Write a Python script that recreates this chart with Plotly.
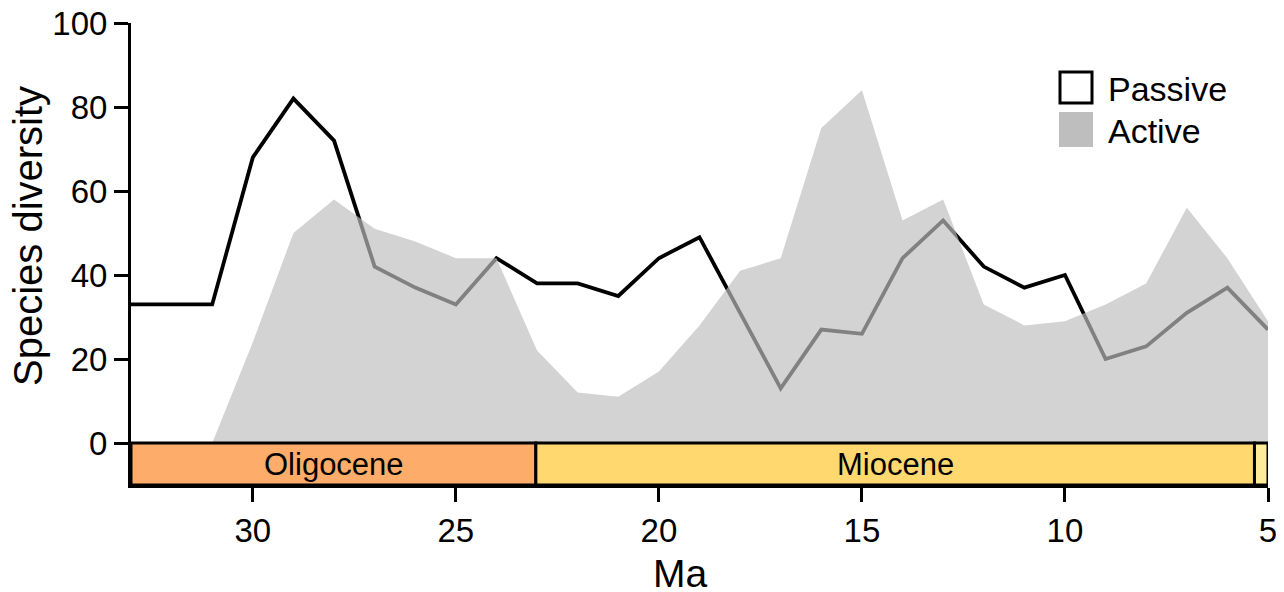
import plotly.graph_objects as go

# ---- data ----
ma = [33, 32, 31, 30, 29, 28, 27, 26, 25, 24, 23, 22, 21, 20, 19, 18, 17, 16, 15,
      14, 13, 12, 11, 10, 9, 8, 7, 6, 5]
passive = [33, 33, 33, 68, 82, 72, 42, 37, 33, 44, 38, 38, 35, 44, 49, 31, 13, 27, 26,
           44, 53, 42, 37, 40, 20, 23, 31, 37, 27]
active_ma = [31, 30, 29, 28, 27, 26, 25, 24, 23, 22, 21, 20, 19, 18, 17, 16, 15,
             14, 13, 12, 11, 10, 9, 8, 7, 6, 5]
active = [0, 24, 50, 58, 51, 48, 44, 44, 22, 12, 11, 17, 28, 41, 44, 75, 84,
          53, 58, 33, 28, 29, 33, 38, 56, 44, 29]

epochs = ["Oligocene", "Miocene", ""]
epoch_start = [33.9, 23.03, 5.333]
epoch_end = [23.03, 5.333, 4.9]
epoch_label_x = [28.0, 14.18, None]
x_ticks = [30, 25, 20, 15, 10, 5]
y_ticks = [0, 20, 40, 60, 80, 100]

# ---- style ----
epoch_colors = ["#FDAD69", "#FFD970", "#FFEC99"]
FONT = "Liberation Sans, Arial, Helvetica, sans-serif"
XMIN, XMAX = 33, 5
YBOT = -10
OFF = 8                      # page body margin
W, H = 1284 - OFF, 592 - OFF
L, R, T, B = 131 - OFF, 1268 - OFF, 23 - OFF, 485 - OFF
PW, PH = R - L, B - T


def px(xpix):
    return (xpix - OFF - L) / PW


def py(ypix):
    return (B - (ypix - OFF)) / PH


fig = go.Figure()
fig.add_trace(go.Scatter(x=ma, y=passive, mode="lines",
                         line=dict(color="black", width=3.8), showlegend=False,
                         hoverinfo="skip"))
fig.add_trace(go.Scatter(x=active_ma, y=active, mode="lines", fill="tozeroy",
                         fillcolor="rgba(190,190,190,0.68)",
                         line=dict(width=0, color="rgba(0,0,0,0)"),
                         showlegend=False, hoverinfo="skip"))

shapes = []
annotations = []
for name, s, e, c, lx in zip(epochs, epoch_start, epoch_end, epoch_colors, epoch_label_x):
    x0 = min(s, XMIN)
    x1 = max(e, XMAX)
    shapes.append(dict(type="rect", xref="x", yref="y", x0=x0, x1=x1, y0=YBOT, y1=0,
                       fillcolor=c, line=dict(color="black", width=3), layer="above"))
    if name:
        annotations.append(dict(x=lx, y=YBOT / 2, xref="x", yref="y", text=name,
                                showarrow=False, font=dict(size=31, color="black", family=FONT)))

# legend (manual)
shapes.append(dict(type="rect", xref="paper", yref="paper",
                   x0=px(1060), x1=px(1092), y0=py(103), y1=py(72),
                   fillcolor="white", line=dict(color="black", width=3)))
shapes.append(dict(type="rect", xref="paper", yref="paper",
                   x0=px(1059), x1=px(1093), y0=py(147), y1=py(112),
                   fillcolor="rgb(190,190,190)", line=dict(width=0)))
annotations.append(dict(x=px(1106), y=py(89), xref="paper", yref="paper",
                        text="Passive", showarrow=False, xanchor="left", yanchor="middle",
                        font=dict(size=34, color="black", family=FONT)))
annotations.append(dict(x=px(1106), y=py(131), xref="paper", yref="paper",
                        text="Active", showarrow=False, xanchor="left", yanchor="middle",
                        font=dict(size=34, color="black", family=FONT)))

# axis titles
annotations.append(dict(x=px(28), y=py(236), xref="paper", yref="paper",
                        text="Species diversity", textangle=-90, showarrow=False,
                        xanchor="center", yanchor="middle",
                        font=dict(size=40, color="black", family=FONT)))
annotations.append(dict(x=px(680), y=py(573), xref="paper", yref="paper",
                        text="Ma", showarrow=False, xanchor="center", yanchor="middle",
                        font=dict(size=39, color="black", family=FONT)))

fig.update_layout(
    width=W, height=H,
    margin=dict(l=L, r=W - R, t=T, b=H - B, autoexpand=False),
    plot_bgcolor="white", paper_bgcolor="white",
    font=dict(family=FONT, size=33, color="black"),
    shapes=shapes, annotations=annotations,
    showlegend=False,
)
fig.update_xaxes(range=[XMIN, XMAX], tickvals=x_ticks, ticks="outside", ticklen=14,
                 tickwidth=3, tickcolor="black", showline=True, linecolor="black",
                 linewidth=3, showgrid=False, zeroline=False, automargin=False,
                 ticklabeloverflow="allow", tickfont=dict(size=33))
fig.update_yaxes(range=[YBOT, 100], tickvals=y_ticks, ticks="outside", ticklen=14,
                 tickwidth=3, tickcolor="black", showline=True, linecolor="black",
                 linewidth=3, showgrid=False, zeroline=False, automargin=False,
                 ticklabeloverflow="allow", tickfont=dict(size=33))

fig.write_html("out.html")
